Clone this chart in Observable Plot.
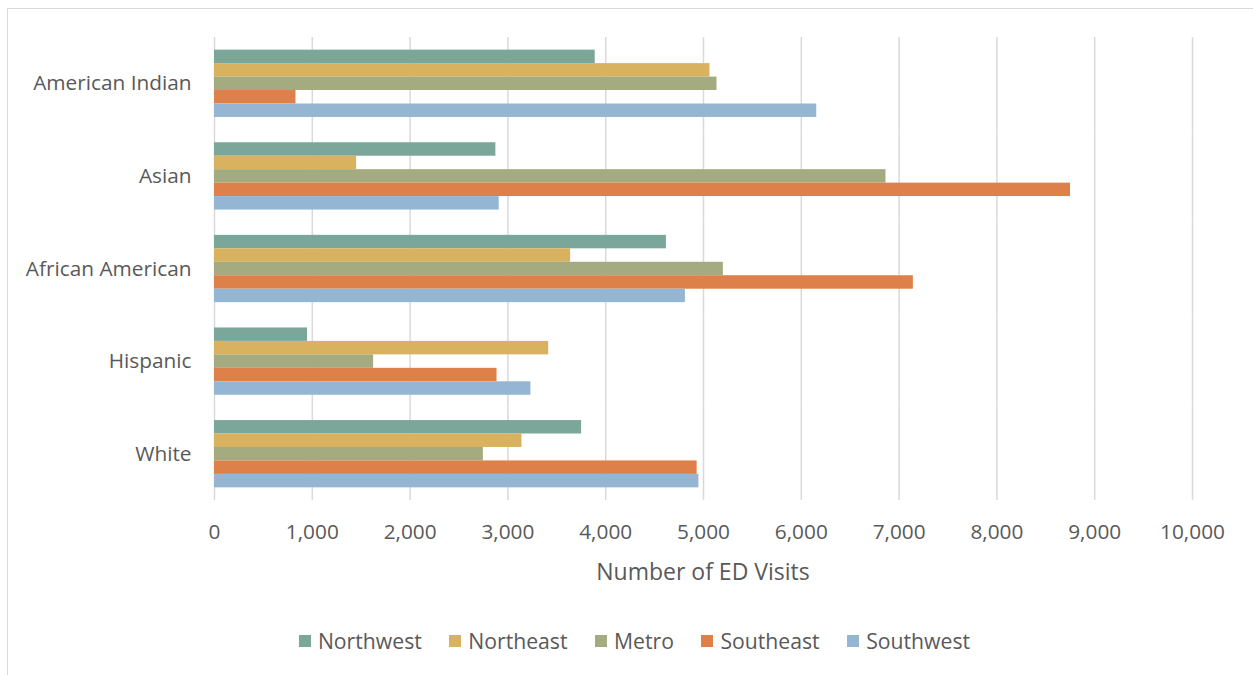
<!DOCTYPE html>
<html>
<head>
<meta charset="utf-8">
<script src="https://cdn.jsdelivr.net/npm/d3@7"></script>
<script src="https://cdn.jsdelivr.net/npm/@observablehq/plot@0.6"></script>
<style>
  html, body { margin: 0; padding: 0; background: #fff; }
  #frame { position: absolute; left: 7px; top: 8px; width: 1260px; height: 680px; border: 1px solid #d9d9d9; box-sizing: border-box; }
  #chart { position: absolute; left: 0; top: 0; }
  #xlabel { position: absolute; left: 214px; width: 978px; top: 556px; text-align: center;
    font-family: "Open Sans", sans-serif; font-size: 23px; color: #595959; line-height: 30px; }
  #legend { position: absolute; left: 7px; width: 1255px; top: 626px; display: flex; justify-content: center; gap: 27.5px;
    font-family: "Open Sans", sans-serif; font-size: 21.2px; color: #595959; line-height: 30px; }
  #legend .item { display: flex; align-items: center; gap: 7px; }
  #legend .sw { width: 12px; height: 12px; display: inline-block; }
</style>
</head>
<body>
<div id="frame"></div>
<div id="chart"></div>
<div id="xlabel"></div>
<div id="legend"></div>
<script>
const categories = ["American Indian", "Asian", "African American", "Hispanic", "White"];
const regions = ["Northwest", "Northeast", "Metro", "Southeast", "Southwest"];
const northwest = [3893, 2877, 4621, 951, 3754];
const northeast = [5066, 1453, 3641, 3417, 3144];
const metro     = [5138, 6866, 5203, 1627, 2749];
const southeast = [833, 8753, 7146, 2889, 4935];
const southwest = [6158, 2911, 4815, 3235, 4953];
const colors = ["#7ba79a", "#d8b25e", "#a4ab80", "#de8049", "#94b6d3"];
const xTicks = [0, 1000, 2000, 3000, 4000, 5000, 6000, 7000, 8000, 9000, 10000];
const xTitle = "Number of ED Visits";

const series = [northwest, northeast, metro, southeast, southwest];
const rows = [];
categories.forEach((c, i) => {
  regions.forEach((r, j) => rows.push({category: c, region: r, value: series[j][i]}));
});

const chart = Plot.plot({
  width: 1253,
  height: 600,
  marginLeft: 214,
  marginRight: 61,
  marginTop: 37,
  marginBottom: 100,
  style: {fontFamily: "'Open Sans', sans-serif", fontSize: "20.8px", color: "#595959", background: "transparent"},
  facet: {data: rows, y: "category"},
  fy: {domain: categories, padding: 0, round: false, axis: "left", label: null, tickSize: 0, tickPadding: 23},
  y: {domain: regions, axis: null, round: false, paddingInner: 0, paddingOuter: 0.94},
  x: {domain: [0, 10000], ticks: xTicks, tickFormat: d3.format(","), tickSize: 0, tickPadding: 24, label: null},
  color: {domain: regions, range: colors},
  marks: [
    Plot.ruleX(xTicks, {stroke: "#d9d9d9", strokeWidth: 1.5}),
    Plot.barX(rows, {y: "region", x: "value", fill: "region"})
  ]
});
document.getElementById("chart").appendChild(chart);
document.getElementById("xlabel").textContent = xTitle;

const legend = document.getElementById("legend");
regions.forEach((r, j) => {
  const it = document.createElement("div");
  it.className = "item";
  const sw = document.createElement("span");
  sw.className = "sw";
  sw.style.background = colors[j];
  const t = document.createElement("span");
  t.textContent = r;
  it.appendChild(sw); it.appendChild(t);
  legend.appendChild(it);
});
</script>
</body>
</html>
